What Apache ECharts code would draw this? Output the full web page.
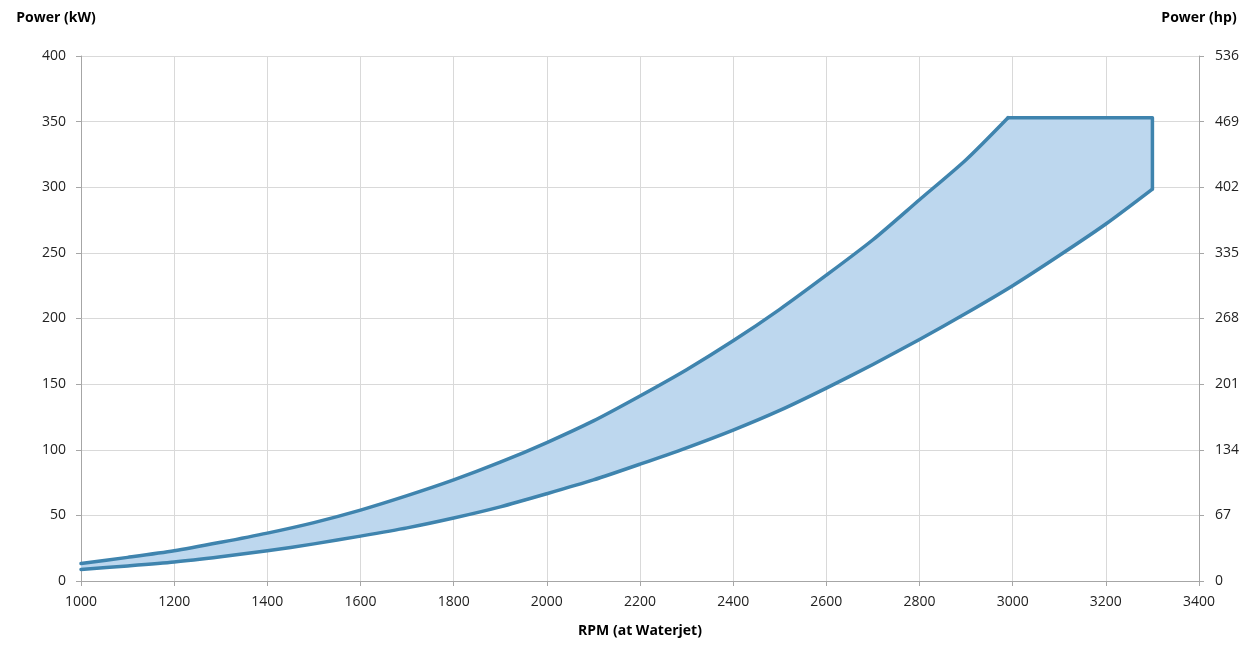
<!DOCTYPE html>
<html>
<head>
<meta charset="utf-8">
<script src="https://cdn.jsdelivr.net/npm/echarts@6/dist/echarts.min.js"></script>
<style>html,body{margin:0;padding:0;background:#fff}#c{width:1260px;height:653px}</style>
</head>
<body>
<div id="c"></div>
<script>
// Upper limit curve (RPM, kW)
const upperRpm = [1000,1100,1200,1300,1400,1500,1600,1700,1800,1900,2000,2100,2200,2300,2400,2500,2600,2700,2800,2900,2990];
const upperKw  = [13.4,18,23,29.5,36.5,44.5,54,65,77,90.5,105.5,122,141,161,183,207,233,260,290.5,321,353];
// Maximum-power plateau and cut-off (RPM, kW)
const plateauRpm = [2990,3300,3300];
const plateauKw  = [353,353,298.6];
// Lower limit curve (RPM, kW)
const lowerRpm = [1000,1100,1200,1300,1400,1500,1600,1700,1800,1900,2000,2100,2200,2300,2400,2500,2600,2700,2800,2900,3000,3100,3200,3300];
const lowerKw  = [8.8,11.5,14.5,18.5,23,28.3,34.2,40.5,48,56.5,66.5,77,89,101.5,115,130,147,165,184,204,225,248,272,298.6];
// Axis ticks
const xTicks = {min:1000, max:3400, step:200};
const kwTicks = {min:0, max:400, step:50};
const hpTicks = {min:0, max:536, step:67};

const upperPts = upperRpm.map((r,i)=>[r,upperKw[i]]);
const plateauPts = plateauRpm.map((r,i)=>[r,plateauKw[i]]);
const lowerPts = lowerRpm.map((r,i)=>[r,lowerKw[i]]);
const outline = upperPts.concat(plateauPts.slice(1), lowerPts.slice().reverse());

const chart = echarts.init(document.getElementById('c'));
const font = '"Open Sans", sans-serif';
const axisGray = '#a6a6a6';
const gridGray = '#d9d9d9';
const stroke = '#3f84ae';
chart.setOption({
  animation:false,
  grid:{left:81,right:61,top:56,bottom:72},
  xAxis:{
    type:'value', min:xTicks.min, max:xTicks.max, interval:xTicks.step,
    name:'RPM (at Waterjet)', nameLocation:'middle', nameGap:43,
    nameTextStyle:{fontFamily:font,fontWeight:'bold',fontSize:14,color:'#000'},
    axisLine:{show:true,lineStyle:{color:axisGray}},
    axisTick:{show:true,length:5,lineStyle:{color:axisGray}},
    axisLabel:{fontFamily:font,fontSize:14,color:'#222',margin:14,formatter:v=>String(v)},
    splitLine:{show:true,lineStyle:{color:gridGray}}
  },
  yAxis:[{
    type:'value', min:kwTicks.min, max:kwTicks.max, interval:kwTicks.step,
    name:'Power (kW)', nameLocation:'end', nameGap:38,
    nameTextStyle:{fontFamily:font,fontWeight:'bold',fontSize:14,color:'#000',align:'center',verticalAlign:'middle',padding:[0,50,0,0]},
    axisLine:{show:true,lineStyle:{color:axisGray}},
    axisTick:{show:true,length:5,lineStyle:{color:axisGray}},
    axisLabel:{fontFamily:font,fontSize:14,color:'#222',margin:15},
    splitLine:{show:true,lineStyle:{color:gridGray}}
  },{
    type:'value', position:'right', min:hpTicks.min, max:hpTicks.max, interval:hpTicks.step,
    name:'Power (hp)', nameLocation:'end', nameGap:38,
    nameTextStyle:{fontFamily:font,fontWeight:'bold',fontSize:14,color:'#000',align:'center',verticalAlign:'middle'},
    axisLine:{show:true,lineStyle:{color:axisGray}},
    axisTick:{show:true,length:5,lineStyle:{color:axisGray}},
    axisLabel:{fontFamily:font,fontSize:14,color:'#222',margin:16},
    splitLine:{show:false}
  }],
  series:[{
    type:'custom',
    coordinateSystem:'cartesian2d',
    data:[0],
    silent:true,
    renderItem:function(params, api){
      const c = p=>api.coord(p);
      const lineStyle = {fill:null,stroke:stroke,lineWidth:3.5,lineJoin:'round',lineCap:'round'};
      return {
        type:'group',
        children:[
          {type:'polygon',shape:{points:outline.map(c)},style:{fill:'#bdd7ee',stroke:null}},
          {type:'polyline',shape:{points:upperPts.map(c),smooth:0.25},style:lineStyle},
          {type:'polyline',shape:{points:plateauPts.map(c)},style:lineStyle},
          {type:'polyline',shape:{points:lowerPts.map(c),smooth:0.25},style:lineStyle}
        ]
      };
    }
  }]
});
</script>
</body>
</html>
